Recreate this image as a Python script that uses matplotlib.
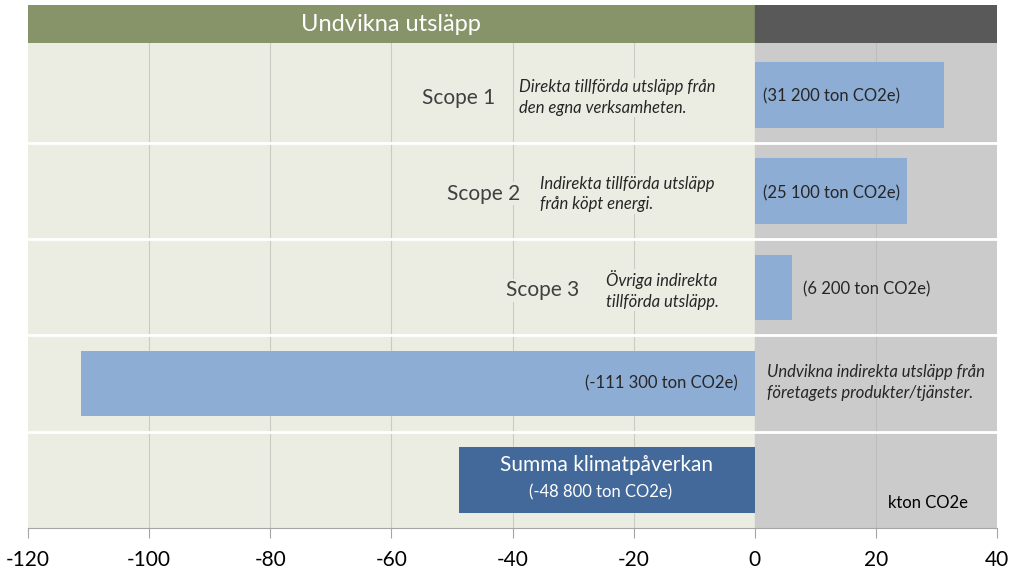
import matplotlib.pyplot as plt

# Data (kton CO2e)
kategorier = ['Scope 1', 'Scope 2', 'Scope 3', 'Undvikna', 'Summa']
varden = [31.2, 25.1, 6.2, -111.3, -48.8]
etiketter = ['(31 200 ton CO2e)', '(25 100 ton CO2e)', '(6 200 ton CO2e)',
             '(-111 300 ton CO2e)', '(-48 800 ton CO2e)']
beskrivningar = ['Direkta tillförda utsläpp från\nden egna verksamheten.',
                 'Indirekta tillförda utsläpp\nfrån köpt energi.',
                 'Övriga indirekta\ntillförda utsläpp.',
                 'Undvikna indirekta utsläpp från\nföretagets produkter/tjänster.']
xticks = [-120, -100, -80, -60, -40, -20, 0, 20, 40]

plt.rcParams['font.family'] = ['Lato', 'DejaVu Sans']

bg_vanster = '#EBEDE2'
bg_hoger = '#CBCBCB'
ljusbla = '#8DADD4'
morkbla = '#42699A'

fig = plt.figure(figsize=(10.24, 5.81), dpi=100)
ax = fig.add_axes([28 / 1024, 1 - 528 / 581, 969 / 1024, 485 / 581])
ax.set_xlim(-120, 40)
ax.set_ylim(5, -0.038)

# bakgrund
ax.axvspan(-120, 0, color=bg_vanster, zorder=0)
ax.axvspan(0, 40, color=bg_hoger, zorder=0)
for x in xticks[1:-1]:
    if x != 0:
        ax.axvline(x, color='#C9CBC4' if x < 0 else '#BDBDBD', lw=0.8, zorder=1)
for i in range(1, 5):
    ax.axhline(i, color='white', lw=2, zorder=2)

# staplar
y = [i + 0.5 for i in range(len(varden))]
farger = [ljusbla] * 4 + [morkbla]
ax.barh(y, varden, height=0.68, color=farger, zorder=3)

# etiketter för scope-raderna
scope_x = [-42.9, -38.8, -28.9]
besk_x = [-39.0, -35.5, -24.6]
for i in range(3):
    ax.text(scope_x[i], y[i] + 0.03, kategorier[i], ha='right', va='center', fontsize=15,
            color='#404040', zorder=4,
            bbox=dict(facecolor=bg_vanster, edgecolor='none', pad=1))
    ax.text(besk_x[i], y[i] + 0.03, beskrivningar[i], ha='left', va='center', fontsize=12,
            style='italic', color='#262626', linespacing=1.35, zorder=4,
            bbox=dict(facecolor=bg_vanster, edgecolor='none', pad=1))
    xpos = 1.3 if varden[i] > 15 else varden[i] + 1.7
    ax.text(xpos, y[i] + 0.02, etiketter[i], ha='left', va='center', fontsize=12,
            color='#262626', zorder=4)

ax.text(-2.8, y[3], etiketter[3], ha='right', va='center', fontsize=12,
        color='#262626', zorder=4)
ax.text(2.0, y[3] - 0.01, beskrivningar[3], ha='left', va='center', fontsize=12,
        style='italic', color='#262626', linespacing=1.35, zorder=4)

ax.text(varden[4] / 2, y[4] - 0.15, 'Summa klimatpåverkan', ha='center', va='center',
        fontsize=15, color='white', zorder=4)
ax.text(varden[4] / 2 - 1.0, y[4] + 0.13, etiketter[4], ha='center', va='center',
        fontsize=12, color='white', zorder=4)
ax.text(35.2, 4.74, 'kton CO2e', ha='right', va='center', fontsize=12,
        color='black', zorder=4)

# axlar
for s in ['top', 'left', 'right']:
    ax.spines[s].set_visible(False)
ax.spines['bottom'].set_color('#A6A6A6')
ax.set_yticks([])
ax.set_xticks(xticks)
ax.set_xticklabels([str(x) for x in xticks], fontsize=15)
ax.tick_params(axis='x', length=7, color='#A6A6A6', pad=9)

# rubrikband
hax = fig.add_axes([28 / 1024, 1 - 43 / 581, 969 / 1024, 38 / 581])
hax.set_xlim(-120, 40)
hax.set_ylim(0, 1)
hax.axvspan(-120, 0, color='#87946A')
hax.axvspan(0, 40, color='#595959')
hax.text(-60, 0.48, 'Undvikna utsläpp', ha='center', va='center', fontsize=17, color='white')
hax.axis('off')

fig.savefig('out.png', dpi=100)
